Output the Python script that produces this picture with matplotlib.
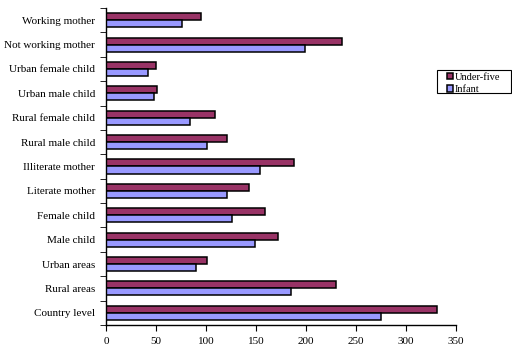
import matplotlib
matplotlib.use("Agg")
import matplotlib.pyplot as plt
from matplotlib.patches import Rectangle
import numpy as np

categories = ["Country level", "Rural areas", "Urban areas", "Male child", "Female child",
              "Literate mother", "Illiterate mother", "Rural male child", "Rural female child",
              "Urban male child", "Urban female child", "Not working mother", "Working mother"]
under_five = [331, 230, 101, 172, 159, 143, 188, 121, 109, 51, 50, 236, 95]
infant = [275, 185, 90, 149, 126, 121, 154, 101, 84, 48, 42, 199, 76]
xticks = [0, 50, 100, 150, 200, 250, 300, 350]

plt.rcParams['font.family'] = ['Liberation Serif', 'DejaVu Serif']

W, H = 512, 356
fig = plt.figure(figsize=(W/100, H/100), dpi=100)
ax = fig.add_axes([106/W, 1-325/H, 350/W, 317/H])

y = np.arange(len(categories))
h = 0.29
ax.barh(y + h/2, under_five, height=h, color="#993366", edgecolor="black", linewidth=1.1, label="Under-five")
ax.barh(y - h/2, infant, height=h, color="#9999FF", edgecolor="black", linewidth=1.1, label="Infant")

ax.set_xlim(0, 350)
ax.set_ylim(-0.5, len(categories) - 0.5)
ax.set_xticks(xticks)
ax.set_xticklabels([str(v) for v in xticks], fontsize=8)
ax.set_yticks(y)
ax.set_yticklabels(categories, fontsize=8)
ax.set_yticks(np.arange(-0.5, len(categories), 1), minor=True)
ax.tick_params(axis='y', which='major', length=0, pad=8)
ax.tick_params(axis='y', which='minor', length=4, direction='out')
ax.tick_params(axis='x', which='major', length=4, direction='out', pad=5)
for s in ['top', 'right']:
    ax.spines[s].set_visible(False)
for s in ['left', 'bottom']:
    ax.spines[s].set_linewidth(1)

handles, labels = ax.get_legend_handles_labels()
leg = fig.legend(handles, labels, loc='upper left', bbox_to_anchor=(447/W, 1-73/H),
                 fontsize=7.5, frameon=False,
                 handlelength=0.55, handleheight=0.55, handletextpad=0.15, borderpad=0,
                 labelspacing=0.3, borderaxespad=0)
fig.patches.append(Rectangle((437/W, 1-93/H), 74/W, 23/H, transform=fig.transFigure,
                             fill=False, edgecolor='black', linewidth=0.8))

fig.savefig("out.png", dpi=100)
